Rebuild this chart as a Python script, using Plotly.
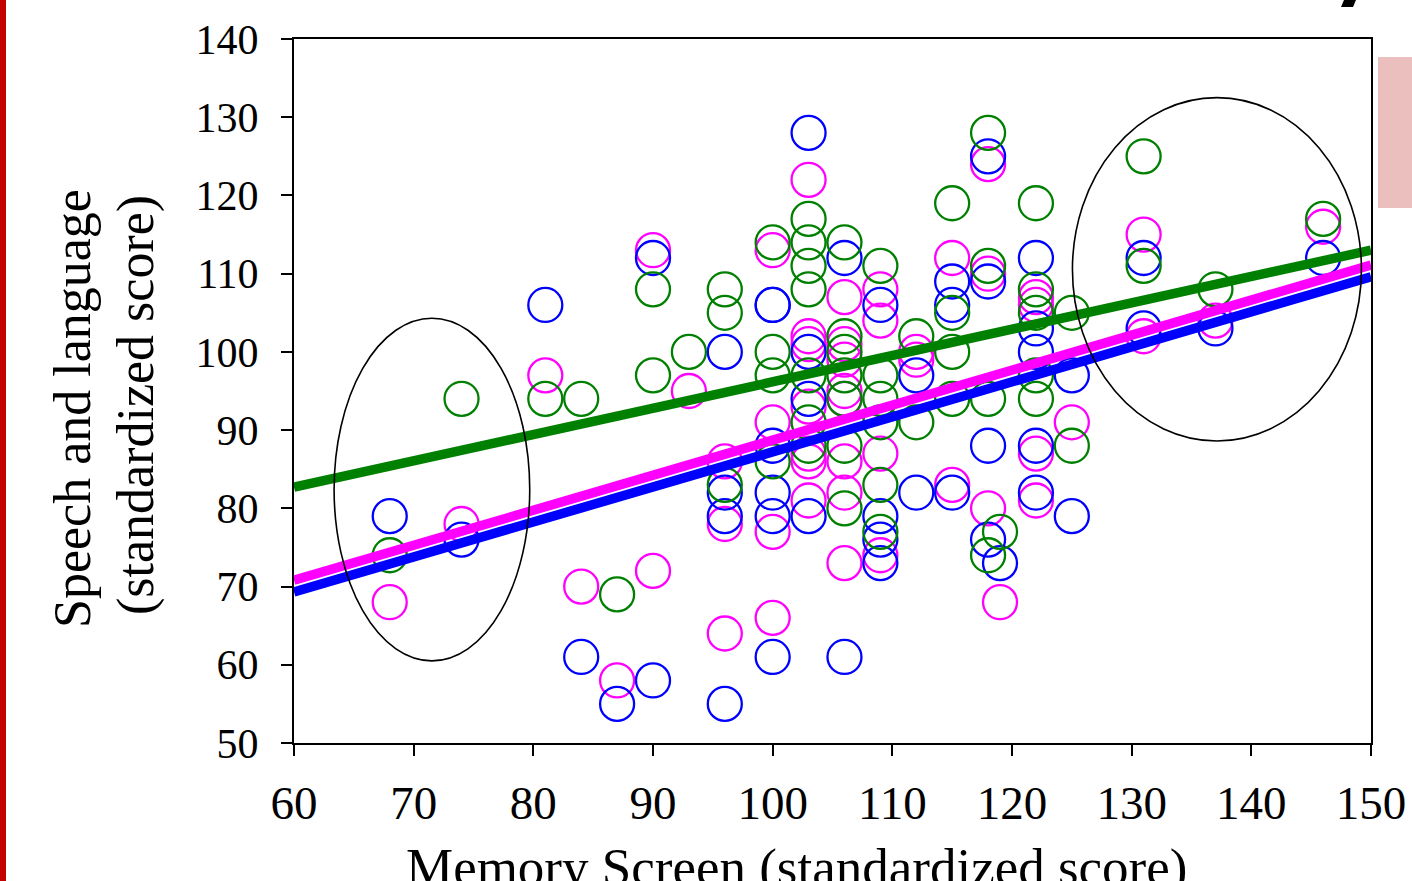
import plotly.graph_objects as go

# ---------------- data ----------------
blue_x = [68, 74, 81, 84, 87, 90, 90, 96, 96, 96, 96, 100, 100, 100, 100, 100, 100,
          103, 103, 103, 103, 106, 106, 109, 109, 109, 109, 112, 112, 115, 115, 115,
          118, 118, 118, 118, 119, 122, 122, 122, 122, 122, 125, 125, 131, 131, 137, 146]
blue_y = [79, 76, 106, 61, 55, 112, 58, 100, 82, 79, 55, 106, 88, 82, 79, 61, 106,
          128, 100, 94, 79, 112, 61, 106, 79, 76, 73, 97, 82, 109, 106, 82,
          125, 109, 88, 76, 73, 112, 103, 100, 88, 82, 97, 79, 112, 103, 103, 112]

magenta_x = [68, 74, 81, 84, 87, 90, 90, 93, 96, 96, 96, 100, 100, 100, 100,
             103, 103, 103, 103, 103, 103, 103, 106, 106, 106, 106, 106, 106, 106, 106,
             109, 109, 109, 109, 112, 112, 115, 115, 118, 118, 118, 119,
             122, 122, 122, 122, 125, 131, 131, 137, 146]
magenta_y = [68, 78, 97, 70, 58, 113, 72, 95, 86, 78, 64, 113, 91, 77, 66,
             122, 102, 101, 93, 87, 86, 81, 107, 101, 99, 95, 94, 86, 82, 73,
             108, 104, 87, 74, 100, 99, 112, 83, 124, 110, 80, 68,
             107, 106, 87, 81, 91, 115, 102, 104, 116]

green_x = [68, 74, 81, 84, 87, 90, 90, 93, 96, 96, 96, 100, 100, 100, 100,
           103, 103, 103, 103, 103, 103, 103, 106, 106, 106, 106, 106, 106, 106,
           109, 109, 109, 109, 109, 109, 112, 112, 115, 115, 115, 115,
           118, 118, 118, 118, 119, 122, 122, 122, 122, 122, 125, 125, 131, 131, 137, 146]
green_y = [74, 94, 94, 94, 69, 108, 97, 100, 108, 105, 83, 114, 100, 97, 86,
           117, 114, 111, 108, 97, 91, 88, 114, 102, 100, 97, 94, 88, 80,
           111, 97, 94, 91, 83, 77, 102, 91, 119, 105, 100, 94,
           128, 111, 94, 74, 77, 119, 108, 105, 97, 94, 105, 88, 125, 111, 108, 117]

# fitted regression lines (values at the axis ends)
fit_x = [60, 150]
blue_fit = [69.3, 109.6]
magenta_fit = [70.8, 111.1]
green_fit = [82.7, 113.0]

x_ticks = [60, 70, 80, 90, 100, 110, 120, 130, 140, 150]
y_ticks = [50, 60, 70, 80, 90, 100, 110, 120, 130, 140]

BLUE = "#0000ff"
MAGENTA = "#ff00ff"
GREEN = "#008000"
SERIF = "Liberation Serif, Times New Roman, serif"

fig = go.Figure()

def circles(xs, ys, color):
    fig.add_trace(go.Scatter(
        x=xs, y=ys, mode="markers", showlegend=False, hoverinfo="skip",
        marker=dict(symbol="circle-open", size=34, color=color,
                    line=dict(width=2.3, color=color)),
        cliponaxis=False))

circles(magenta_x, magenta_y, MAGENTA)
circles(blue_x, blue_y, BLUE)
circles(green_x, green_y, GREEN)

for ys, c in [(green_fit, GREEN), (magenta_fit, MAGENTA), (blue_fit, BLUE)]:
    fig.add_trace(go.Scatter(x=fit_x, y=ys, mode="lines", showlegend=False,
                             hoverinfo="skip", line=dict(color=c, width=9.5)))

# highlighted groups
fig.add_shape(type="circle", xref="x", yref="y", x0=63.35, x1=79.7, y0=60.5, y1=104.3,
              line=dict(color="black", width=1.6))
fig.add_shape(type="circle", xref="x", yref="y", x0=125.05, x1=149.2, y0=88.6, y1=132.5,
              line=dict(color="black", width=1.6))

# slide decorations
L, W, T, H = 294, 1077, 39, 704
def px(v):
    return (v - L) / W
def py(v):
    return (T + H - v) / H

fig.add_shape(type="rect", xref="paper", yref="paper", x0=px(0), x1=px(6), y0=py(881), y1=py(0),
              fillcolor="#c40000", line=dict(width=0), layer="above")
fig.add_shape(type="rect", xref="paper", yref="paper", x0=px(1378), x1=px(1412), y0=py(208), y1=py(57),
              fillcolor="#ecbfbf", line=dict(width=0), layer="above")
fig.add_shape(type="path", xref="paper", yref="paper",
              path=f"M {px(1344)} {py(0)} L {px(1356)} {py(0)} L {px(1353)} {py(7)} L {px(1341)} {py(7)} Z",
              fillcolor="black", line=dict(width=0))

fig.add_annotation(xref="paper", yref="paper", x=px(72), y=py(409), text="Speech and language",
                   textangle=-90, showarrow=False, xanchor="center", yanchor="middle",
                   font=dict(family=SERIF, size=52, color="black"))
fig.add_annotation(xref="paper", yref="paper", x=px(136), y=py(405), text="(standardized score)",
                   textangle=-90, showarrow=False, xanchor="center", yanchor="middle",
                   font=dict(family=SERIF, size=52, color="black"))
fig.add_annotation(xref="paper", yref="paper", x=px(796), y=py(836),
                   text="Memory Screen (standardized score)",
                   showarrow=False, xanchor="center", yanchor="top",
                   font=dict(family=SERIF, size=53, color="black"))

fig.update_xaxes(range=[60, 150], tickvals=x_ticks, ticktext=[str(v) for v in x_ticks],
                 showgrid=False, zeroline=False, showline=True, linecolor="black", linewidth=2,
                 mirror=True, ticks="outside", ticklen=11, tickwidth=1.5, tickcolor="black",
                 ticklabelstandoff=7, automargin=False,
                 tickfont=dict(family=SERIF, size=47, color="black"))
fig.update_yaxes(range=[50, 140], tickvals=y_ticks, ticktext=[str(v) for v in y_ticks],
                 showgrid=False, zeroline=False, showline=True, linecolor="black", linewidth=2,
                 mirror=True, ticks="outside", ticklen=11, tickwidth=1.5, tickcolor="black",
                 ticklabelstandoff=14, automargin=False,
                 tickfont=dict(family=SERIF, size=42, color="black"))

fig.update_layout(width=1412, height=881, autosize=False,
                  margin=dict(l=294, r=41, t=39, b=138, pad=0, autoexpand=False),
                  paper_bgcolor="white", plot_bgcolor="white", showlegend=False)

fig.write_html("out.html", config={"displayModeBar": False},
               post_script="document.body.style.margin='0';document.body.style.overflow='hidden';")
